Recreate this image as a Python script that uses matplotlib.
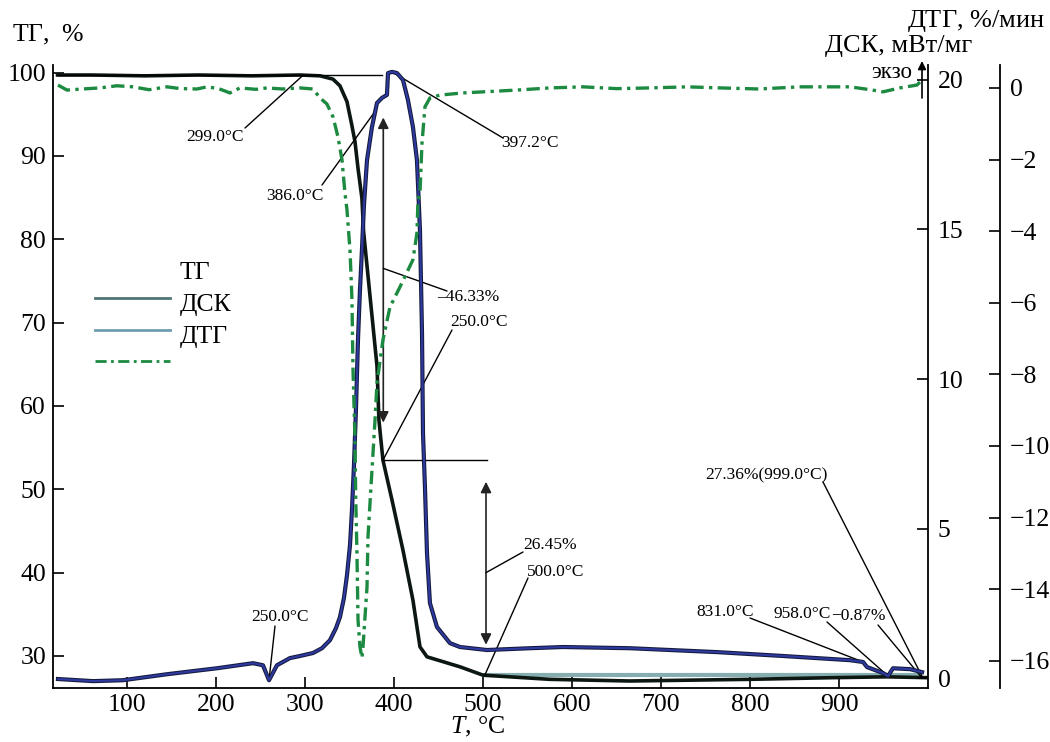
import numpy as np
import matplotlib.pyplot as plt

plt.rcParams['font.family'] = ['Liberation Serif', 'DejaVu Serif']
plt.rcParams['mathtext.fontset'] = 'custom'
plt.rcParams['mathtext.rm'] = 'Liberation Serif'
plt.rcParams['mathtext.it'] = 'Liberation Serif:italic'

# TG, %
t_tg = [22, 60, 120, 180, 240, 294, 317, 331.5, 339.3, 347.2, 352.8, 356.2, 359.6, 364.0,
        365.8, 369.7, 375.3, 380.9, 383.1, 387.6, 397.8, 410.1, 421.3, 429.2, 437.1, 474.2,
        500, 575, 665, 800, 893, 954, 999]
tg = [99.7, 99.7, 99.6, 99.7, 99.6, 99.7, 99.6, 99.2, 98.4, 96.5, 93.6, 91.7, 88.5, 84.9,
      81.0, 76.8, 70.8, 64.8, 58.3, 53.5, 48.7, 42.7, 36.7, 31.1, 29.9, 28.7,
      27.7, 27.2, 27.0, 27.2, 27.4, 27.5, 27.4]

# DSC, mW/mg
t_dsc = [22.5, 61.8, 95.5, 144.9, 201.1, 241.6, 252.8, 259.6, 268.5, 283.1, 294.4, 309.0,
         319.1, 328.1, 334.8, 339.3, 343.8, 347.2, 350.6, 352.8, 355.1, 357.3, 359.6, 361.8,
         364.0, 366.3, 369.7, 375.3, 380.9, 386.5, 392.1,
         393.3, 397.8, 403.4, 410.1, 415.7, 421.3, 425.8, 429.2, 431.5, 432.6, 434.8, 437.1,
         440.4, 448.3, 462.9, 474.2, 504.5, 552.8, 589.9, 665.2, 762.9, 837.1, 912.4, 927.0,
         931.5, 949.4, 955.1, 960.7, 979.8, 993.3]
dsc = [-0.03, -0.10, -0.07, 0.13, 0.33, 0.50, 0.43, -0.07, 0.43, 0.67, 0.74, 0.84,
       1.00, 1.27, 1.67, 2.04, 2.68, 3.44, 4.45, 5.62, 7.16, 9.00, 11.34, 12.98,
       14.31, 15.82, 17.32, 18.43, 19.23, 19.40, 19.50,
       20.23, 20.27, 20.23, 20.0, 19.33, 18.43, 17.32, 14.98, 11.54, 8.19, 6.39, 4.18,
       2.51, 1.71, 1.17, 1.04, 0.94, 1.00, 1.04, 1.00, 0.87, 0.74, 0.60, 0.54,
       0.37, 0.17, 0.07, 0.33, 0.30, 0.20]

# DTG, %/min
t_dtg = [22.5, 32.6, 50, 69.7, 88.8, 106.7, 125, 144.9, 160, 178.7, 189.9, 203, 215.7, 227.0,
         245, 257.3, 275, 294.4, 309.0, 316.9, 324.7, 331.5, 337.1, 341.6, 344.9, 347.2,
         350.6, 352.8, 353.9, 356.2, 357.0, 358.4, 359.6, 361.8, 364.0, 365.2, 369.7, 370.8,
         375.3, 378.7, 380.9, 387.6, 395.5, 406.7, 421.3, 425.8, 427.0, 429.2, 431.5, 434.8,
         440.4, 451.7, 477.5, 500, 538.2, 575.3, 612.4, 650, 687.6, 730, 766.3, 810, 856,
         912.4, 935, 949.4, 968.5, 987.6, 993.3]
dtg = [0.08, -0.06, -0.03, 0.0, 0.06, 0.03, -0.05, 0.03, -0.02, -0.03, 0.03, -0.02, -0.14, 0.0,
       -0.04, 0.0, -0.03, 0.0, -0.03, -0.28, -0.45, -0.81, -1.37, -2.01, -2.93, -3.41,
       -4.53, -5.92, -7.79, -9.83, -11.42, -12.99, -14.86, -15.61, -15.92, -15.61, -13.94, -12.54,
       -10.67, -9.27, -8.24, -7.04, -6.12, -5.56, -4.80, -4.05, -3.13, -2.93, -1.54, -0.53,
       -0.28, -0.20, -0.14, -0.11, -0.06, 0.0, 0.03, -0.02, 0.0, 0.03, 0.0, -0.03, 0.03,
       0.03, -0.05, -0.11, 0.0, 0.08, 0.22]

W, H = 1050, 742
DASHDOT = (0, (4, 1.6, 1, 1.6))


def fp(x, y):
    # reference pixel -> figure fraction
    return (x / W, 1 - y / H)


fig = plt.figure(figsize=(10.5, 7.42), dpi=100)
fig.patch.set_facecolor('white')
ax = fig.add_axes([53 / W, 1 - 688 / H, 875 / W, 623 / H])
ax2 = ax.twinx()
ax3 = ax.twinx()
ax3.spines['right'].set_position(('axes', 1.0823))

ax.set_xlim(16.9, 1000)
ax.set_ylim(26.16, 100.9)
ax2.set_ylim(-0.33, 20.5)
ax3.set_ylim(-16.76, 0.64)

for a in (ax, ax2, ax3):
    a.spines['top'].set_visible(False)
    a.patch.set_visible(False)
ax.spines['right'].set_visible(False)
for a in (ax2, ax3):
    a.spines['left'].set_visible(False)
    a.spines['bottom'].set_visible(False)
for s in ax.spines.values():
    s.set_linewidth(1.3)
for a in (ax2, ax3):
    a.spines['right'].set_linewidth(1.3)

ax.set_xticks(range(100, 1000, 100))
ax.set_yticks(range(30, 101, 10))
ax2.set_yticks(range(0, 21, 5))
ax3.set_yticks(range(-16, 1, 2))
ax.tick_params(axis='both', direction='in', length=8, width=1.2, labelsize=18.5)
ax.tick_params(axis='y', pad=5)
ax.tick_params(axis='x', pad=4)
ax2.tick_params(axis='y', direction='in', length=8, width=1.2, labelsize=18.5, pad=7)
ax3.tick_params(axis='y', direction='in', length=8, width=1.2, labelsize=18.5, pad=7)

# curves
ax.plot(t_tg, tg, color='#0c1712', lw=2.6, zorder=5)
ax2.plot(t_dsc, dsc, color='#141a3c', lw=3.0, zorder=4)
ax2.plot(t_dsc, dsc, color='#2f3aa0', lw=1.5, zorder=4)
ax3.plot(t_dtg, dtg, color='#1c8a40', lw=2.4, ls=DASHDOT, zorder=3)

# baseline of the residue
tg500 = np.interp(500, t_tg, tg)
ax.plot([502, 990], [tg500, tg500], color='#86aeb0', lw=3, zorder=2)

# tangent line at the top
ax.plot([t_tg[0], 387], [tg[0], tg[0]], color='black', lw=1.0, zorder=6)

# mass loss arrows and marker lines
arrow = dict(arrowstyle='<|-|>', color='#222222', lw=1.2, mutation_scale=16, shrinkA=0, shrinkB=0)
ax.annotate('', xy=(388, 94.6), xytext=(388, 58.0), arrowprops=arrow, zorder=7)
ax.annotate('', xy=(503.4, 50.9), xytext=(503.4, 31.35), arrowprops=arrow, zorder=7)
tg_mid = np.interp(387.6, t_tg, tg)
ax.plot([387.6, 504.5], [tg_mid, tg_mid], color='black', lw=1.0, zorder=6)

line = dict(arrowstyle='-', color='black', lw=1.0, shrinkA=0, shrinkB=0)
notes = [
    # text, text x, text y, ha, line start (px), axis, T of target
    ('299.0°C', 215, 137, 'center', (245, 128), 'tg', 298),
    ('386.0°C', 295, 196, 'center', (322, 185), 'dsc', 379),
    ('397.2°C', 530, 143, 'center', (503, 138), 'dsc', 397.8),
    ('250.0°C', 280, 617, 'center', (275, 626), 'dsc', 259.6),
    ('250.0°C', 450, 322, 'left', (452, 330), 'tg', 387.6),
    ('500.0°C', 527, 572, 'left', (528, 578), 'tg', 502),
    ('831.0°C', 696, 612, 'left', (750, 618), 'dsc', 927),
    ('958.0°C', 773, 614, 'left', (827, 622), 'dsc', 955.1),
    ('−0.87%', 831, 616, 'left', (878, 625), 'tg', 993),
    ('27.36%(999.0°C)', 705, 475, 'left', (823, 482), 'tg', 994),
]
for text, tx, ty, ha, start, which, tt in notes:
    fig.text(*fp(tx, ty), text, ha=ha, va='center', fontsize=12.5)
    if which == 'tg':
        target, trans = (tt, np.interp(tt, t_tg, tg)), ax.transData
    else:
        target, trans = (tt, np.interp(tt, t_dsc, dsc)), ax2.transData
    ax.annotate('', xy=target, xycoords=trans, xytext=fp(*start),
                textcoords='figure fraction', arrowprops=line, zorder=7)

ax.annotate('', xy=(388, 76.5), xytext=fp(447, 291), textcoords='figure fraction',
            arrowprops=line, zorder=7)
fig.text(*fp(437, 297), '–46.33%', ha='left', va='center', fontsize=12.5)
ax.annotate('', xy=(503.4, 40.0), xytext=fp(523, 552), textcoords='figure fraction',
            arrowprops=line, zorder=7)
fig.text(*fp(523, 545), '26.45%', ha='left', va='center', fontsize=12.5)

# legend
lx = [(95 - 53) / 875, (170 - 53) / 875]
ax.plot(lx, [(688 - 298) / 623] * 2, transform=ax.transAxes, color='#4f7474', lw=2)
ax.plot(lx, [(688 - 330) / 623] * 2, transform=ax.transAxes, color='#6f9db0', lw=2)
ax.plot(lx, [(688 - 361) / 623] * 2, transform=ax.transAxes, color='#1c8a40', lw=2,
        ls=DASHDOT)
fig.text(*fp(180, 273), 'ТГ', fontsize=18.5, va='center')
fig.text(*fp(180, 305), 'ДСК', fontsize=18.5, va='center')
fig.text(*fp(180, 337), 'ДТГ', fontsize=18.5, va='center')

# axis titles
fig.text(*fp(12, 35), r'ТГ,  $\mathit{\%}$', fontsize=18.5, va='center', ha='left')
fig.text(*fp(1045, 21), r'ДТГ, $\mathit{\%}$/мин', fontsize=19, va='center', ha='right')
fig.text(*fp(972, 46), 'ДСК, мВт/мг', fontsize=19, va='center', ha='right')
fig.text(*fp(912, 73), 'экзо', fontsize=16.5, va='center', ha='right')
fig.text(*fp(478, 727), r'$T$, °C', fontsize=18.5, va='center', ha='center')
ax.annotate('', xy=fp(922, 61), xycoords='figure fraction', xytext=fp(922, 98),
            textcoords='figure fraction',
            arrowprops=dict(arrowstyle='-|>', color='black', lw=1.2, mutation_scale=12,
                            shrinkA=0, shrinkB=0))

fig.savefig('out.png', dpi=100)
